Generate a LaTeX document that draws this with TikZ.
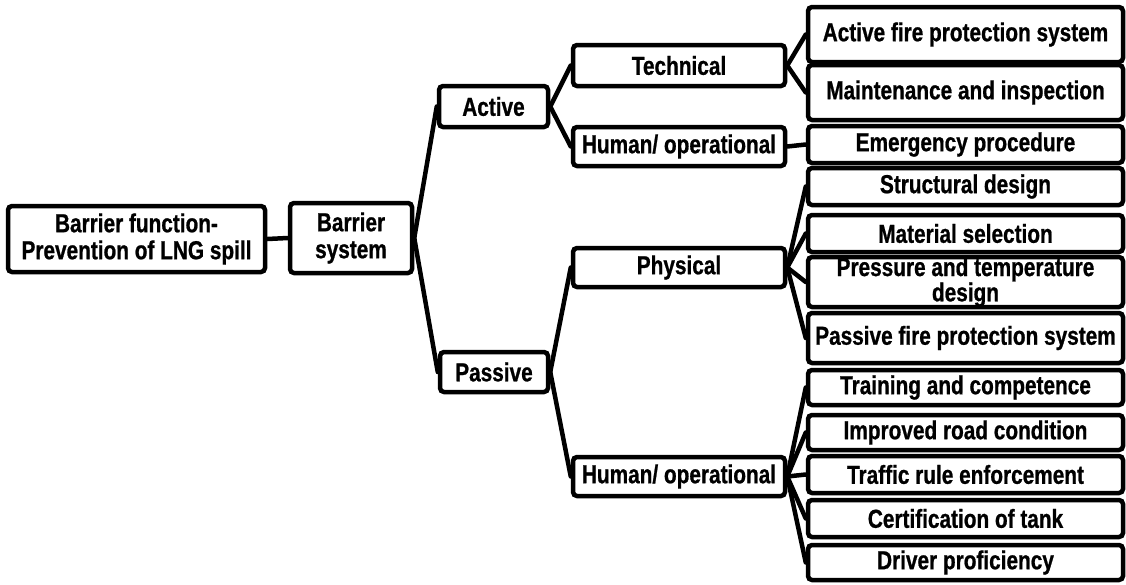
\documentclass[tikz,border=0pt]{standalone}
\usepackage{fontspec}
\newfontfamily\labelfont{Liberation Sans Bold}[FakeStretch=0.8, FakeBold=0.8]
\begin{document}
\begin{tikzpicture}[x=1pt,y=-1pt,
  box/.style={draw=black, line width=4.5pt, rounded corners=4pt, fill=white,
    inner sep=0pt, align=center, font=\fontsize{26}{27}\labelfont},
  link/.style={line width=4.5pt, line cap=round}]
\useasboundingbox (0,0) rectangle (1126,584);

% levels 1 and 2
\node[box, minimum width=257pt, minimum height=66pt] (root) at (136.5,239) {Barrier function-\\Prevention of LNG spill};
\node[box, minimum width=122pt, minimum height=70pt] (bsys) at (351,238) {Barrier\\system};

% level 3
\node[box, minimum width=109pt, minimum height=41pt] (active) at (493.5,106.5) {Active};
\node[box, minimum width=108pt, minimum height=40pt] (passive) at (494,372) {Passive};

% level 4
\node[box, minimum width=212pt, minimum height=41pt] (tech) at (679,65.5) {Technical};
\node[box, minimum width=212pt, minimum height=39pt] (hum1) at (679,146.5) {Human/ operational};
\node[box, minimum width=212pt, minimum height=39pt] (phys) at (679,267.5) {Physical};
\node[box, minimum width=212pt, minimum height=39pt] (hum2) at (679,476.5) {Human/ operational};

% level 5
\tikzset{leaf/.style={box, minimum width=315pt}}
\node[leaf, minimum height=55pt] (afp) at (965.5,34.5) {Active fire protection system};
\node[leaf, minimum height=55pt] (maint) at (965.5,92.5) {Maintenance and inspection};
\node[leaf, minimum height=37pt] (emerg) at (965.5,144.5) {Emergency procedure};
\node[leaf, minimum height=37pt] (struct) at (965.5,186.5) {Structural design};
\node[leaf, minimum height=37pt] (mat) at (965.5,233.5) {Material selection};
\node[leaf, minimum height=50pt, font=\fontsize{26}{24}\labelfont] (press) at (965.5,282) {Pressure and temperature\\design};
\node[leaf, minimum height=50pt] (pfp) at (965.5,338) {Passive fire protection system};
\node[leaf, minimum height=35pt] (train) at (965.5,387.5) {Training and competence};
\node[leaf, minimum height=35pt] (road) at (965.5,432.5) {Improved road condition};
\node[leaf, minimum height=37pt] (traffic) at (965.5,474.5) {Traffic rule enforcement};
\node[leaf, minimum height=37pt] (cert) at (965.5,518.5) {Certification of tank};
\node[leaf, minimum height=35pt] (driver) at (965.5,562.5) {Driver proficiency};

% connectors
\draw[link] (root.east) -- (bsys.west);
\draw[link] (bsys.east) -- (active.west);
\draw[link] (bsys.east) -- (passive.west);
\draw[link] (active.east) -- (tech.west);
\draw[link] (active.east) -- (hum1.west);
\draw[link] (passive.east) -- (phys.west);
\draw[link] (passive.east) -- (hum2.west);
\draw[link] (tech.east) -- (afp.west);
\draw[link] (tech.east) -- (maint.west);
\draw[link] (hum1.east) -- (emerg.west);
\foreach \t in {struct,mat,press,pfp} \draw[link] (phys.east) -- (\t.west);
\foreach \t in {train,road,traffic,cert,driver} \draw[link] (hum2.east) -- (\t.west);
\end{tikzpicture}
\end{document}
